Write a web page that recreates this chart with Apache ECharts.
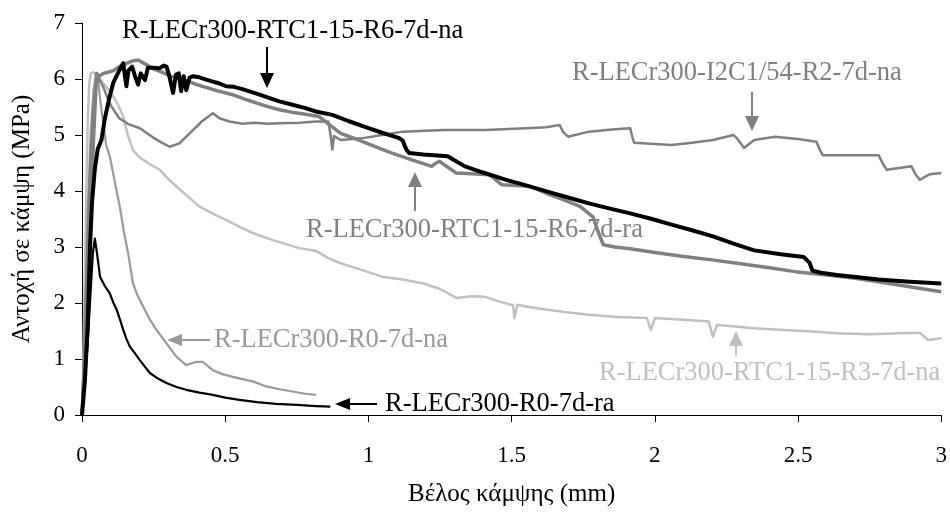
<!DOCTYPE html>
<html>
<head>
<meta charset="utf-8">
<script src="https://cdn.jsdelivr.net/npm/echarts@6/dist/echarts.min.js"></script>
<style>html,body{margin:0;padding:0;background:#fff}#c{width:950px;height:514px}</style>
</head>
<body>
<div id="c"></div>
<script>
// Axis tick values
var xTicks = [0, 0.5, 1, 1.5, 2, 2.5, 3];
var yTicks = [0, 1, 2, 3, 4, 5, 6, 7];

// Series names
var names = [
  'R-LECr300-RTC1-15-R6-7d-na',
  'R-LECr300-RTC1-15-R6-7d-ra',
  'R-LECr300-I2C1/54-R2-7d-na',
  'R-LECr300-RTC1-15-R3-7d-na',
  'R-LECr300-R0-7d-na',
  'R-LECr300-R0-7d-ra'
];

// [deflection mm, strength MPa]
var rtcR6na = [[0,0],[0.01,0.6],[0.02,1.6],[0.028,3.0],[0.035,3.8],[0.045,4.4],[0.055,4.75],[0.068,4.91],[0.08,5.3],[0.095,5.65],[0.109,5.93],[0.125,6.1],[0.144,6.28],[0.15,6.05],[0.155,5.87],[0.162,6.15],[0.175,6.22],[0.185,6.05],[0.196,5.9],[0.205,6.1],[0.22,5.98],[0.23,6.2],[0.25,6.2],[0.27,6.19],[0.285,6.24],[0.295,6.22],[0.305,6.05],[0.318,5.75],[0.328,6.08],[0.338,6.1],[0.346,5.78],[0.355,6.05],[0.364,5.8],[0.375,6.02],[0.387,6.05],[0.41,6.03],[0.434,5.99],[0.46,5.95],[0.48,5.92],[0.503,5.87],[0.53,5.86],[0.56,5.82],[0.585,5.78],[0.62,5.72],[0.655,5.66],[0.689,5.6],[0.735,5.54],[0.78,5.48],[0.817,5.42],[0.874,5.36],[0.93,5.25],[0.99,5.14],[1.048,5.04],[1.105,4.95],[1.12,4.9],[1.127,4.8],[1.135,4.72],[1.142,4.68],[1.192,4.65],[1.277,4.62],[1.30,4.55],[1.337,4.44],[1.40,4.33],[1.481,4.2],[1.55,4.1],[1.625,3.99],[1.70,3.88],[1.77,3.78],[1.84,3.69],[1.914,3.6],[1.99,3.5],[2.058,3.4],[2.13,3.3],[2.203,3.19],[2.28,3.05],[2.347,2.94],[2.44,2.87],[2.52,2.82],[2.54,2.72],[2.55,2.58],[2.58,2.54],[2.636,2.5],[2.71,2.46],[2.78,2.42],[2.89,2.38],[3.0,2.35]];

var rtcR6ra = [[0,0],[0.01,1.0],[0.02,2.5],[0.03,3.8],[0.04,4.9],[0.051,6.1],[0.06,6.05],[0.075,6.1],[0.09,6.12],[0.11,6.15],[0.13,6.22],[0.155,6.28],[0.175,6.32],[0.196,6.34],[0.22,6.27],[0.25,6.18],[0.28,6.12],[0.31,6.05],[0.34,6.0],[0.37,5.96],[0.40,5.9],[0.44,5.84],[0.48,5.78],[0.526,5.72],[0.58,5.62],[0.64,5.52],[0.689,5.45],[0.74,5.4],[0.78,5.37],[0.828,5.33],[0.86,5.2],[0.903,5.03],[0.96,4.92],[1.019,4.8],[1.08,4.68],[1.149,4.56],[1.221,4.44],[1.235,4.5],[1.249,4.53],[1.27,4.45],[1.307,4.32],[1.36,4.31],[1.423,4.29],[1.445,4.2],[1.466,4.11],[1.52,4.1],[1.567,4.08],[1.62,3.96],[1.683,3.84],[1.74,3.72],[1.784,3.54],[1.80,3.3],[1.82,3.04],[1.86,3.0],[1.914,2.97],[2.0,2.9],[2.1,2.83],[2.2,2.77],[2.3,2.7],[2.4,2.63],[2.49,2.56],[2.6,2.5],[2.7,2.44],[2.78,2.38],[2.9,2.28],[3.0,2.2]];

var i2c1 = [[0,0],[0.01,1.5],[0.02,3.2],[0.03,4.6],[0.04,5.5],[0.05,5.9],[0.06,6.0],[0.075,5.85],[0.09,5.65],[0.103,5.51],[0.13,5.3],[0.16,5.2],[0.202,5.12],[0.25,4.95],[0.28,4.86],[0.306,4.79],[0.34,4.85],[0.376,5.03],[0.42,5.25],[0.457,5.39],[0.48,5.3],[0.515,5.24],[0.56,5.2],[0.6,5.22],[0.65,5.2],[0.689,5.21],[0.76,5.22],[0.817,5.24],[0.86,5.24],[0.868,5.0],[0.874,4.74],[0.88,4.98],[0.903,4.91],[0.975,4.94],[1.048,5.0],[1.12,5.06],[1.263,5.09],[1.408,5.09],[1.552,5.12],[1.62,5.14],[1.668,5.18],[1.68,5.05],[1.697,4.97],[1.77,5.06],[1.85,5.1],[1.914,5.12],[1.922,4.95],[1.928,4.86],[2.058,4.82],[2.13,4.86],[2.203,4.91],[2.275,5.0],[2.29,4.92],[2.311,4.77],[2.347,4.91],[2.419,4.97],[2.5,4.93],[2.564,4.88],[2.575,4.75],[2.586,4.64],[2.7,4.64],[2.781,4.64],[2.795,4.5],[2.809,4.38],[2.896,4.44],[2.91,4.3],[2.925,4.2],[2.96,4.3],[3.0,4.32]];

var rtcR3na = [[0,0],[0.005,1.0],[0.01,2.5],[0.015,4.0],[0.02,5.2],[0.025,5.9],[0.03,6.1],[0.04,6.12],[0.055,6.05],[0.07,5.95],[0.09,5.82],[0.109,5.69],[0.125,5.55],[0.144,5.33],[0.16,5.0],[0.178,4.73],[0.195,4.63],[0.213,4.56],[0.24,4.47],[0.271,4.38],[0.30,4.22],[0.33,4.08],[0.37,3.9],[0.411,3.72],[0.455,3.6],[0.504,3.48],[0.55,3.36],[0.596,3.25],[0.65,3.15],[0.70,3.07],[0.759,2.98],[0.817,2.93],[0.86,2.8],[0.903,2.71],[0.97,2.6],[1.048,2.47],[1.12,2.42],[1.192,2.35],[1.25,2.25],[1.307,2.09],[1.36,2.12],[1.408,2.11],[1.46,2.02],[1.505,1.96],[1.51,1.73],[1.52,1.97],[1.57,1.92],[1.625,1.88],[1.7,1.83],[1.77,1.79],[1.87,1.75],[1.972,1.73],[1.986,1.52],[2.0,1.73],[2.1,1.7],[2.188,1.67],[2.203,1.40],[2.217,1.61],[2.28,1.58],[2.347,1.55],[2.45,1.52],[2.55,1.49],[2.636,1.46],[2.75,1.44],[2.85,1.46],[2.925,1.47],[2.954,1.34],[3.0,1.37]];

var r0na = [[0,0],[0.01,1.8],[0.02,3.6],[0.03,5.0],[0.04,5.8],[0.05,6.1],[0.056,6.0],[0.062,5.7],[0.068,5.45],[0.074,5.21],[0.085,4.8],[0.097,4.62],[0.115,4.15],[0.132,3.72],[0.147,3.25],[0.161,2.89],[0.178,2.35],[0.195,2.12],[0.213,1.94],[0.235,1.72],[0.26,1.52],[0.295,1.28],[0.33,1.04],[0.364,0.89],[0.38,0.92],[0.399,0.95],[0.422,0.95],[0.44,0.87],[0.457,0.80],[0.49,0.73],[0.527,0.68],[0.56,0.64],[0.596,0.60],[0.643,0.51],[0.69,0.46],[0.735,0.42],[0.78,0.38],[0.817,0.36]];

var r0ra = [[0,0],[0.01,0.6],[0.02,1.3],[0.03,2.2],[0.038,2.9],[0.045,3.15],[0.052,2.9],[0.063,2.47],[0.08,2.3],[0.097,2.17],[0.11,2.0],[0.121,1.88],[0.133,1.7],[0.144,1.52],[0.155,1.36],[0.167,1.22],[0.185,1.1],[0.202,0.98],[0.22,0.86],[0.237,0.75],[0.265,0.65],[0.295,0.57],[0.33,0.5],[0.364,0.45],[0.41,0.4],[0.457,0.36],[0.5,0.31],[0.55,0.27],[0.61,0.23],[0.678,0.20],[0.75,0.18],[0.817,0.16],[0.867,0.15]];

var FONT = "'Liberation Serif', 'Times New Roman', Tinos, 'DejaVu Serif', serif";

var chart = echarts.init(document.getElementById('c'), null, {renderer: 'canvas'});

function line(name, data, color, width, z) {
  return {
    name: name, type: 'line', data: data, showSymbol: false, symbol: 'none',
    lineStyle: {color: color, width: width, join: 'round'}, z: z, animation: false,
    emphasis: {disabled: true}
  };
}

function arrowV(x, yTail, yTip, color) {
  var dir = yTip > yTail ? 1 : -1;
  var base = yTip - dir * 15;
  return [
    {type: 'line', shape: {x1: x, y1: yTail, x2: x, y2: base}, style: {stroke: color, lineWidth: 2}},
    {type: 'polygon', shape: {points: [[x, yTip], [x - 7, base], [x + 7, base]]}, style: {fill: color}}
  ];
}
function arrowH(y, xTail, xTip, color) {
  var dir = xTip > xTail ? 1 : -1;
  var base = xTip - dir * 15;
  return [
    {type: 'line', shape: {x1: xTail, y1: y, x2: base, y2: y}, style: {stroke: color, lineWidth: 2}},
    {type: 'polygon', shape: {points: [[xTip, y], [base, y - 6], [base, y + 6]]}, style: {fill: color}}
  ];
}
function label(text, x, y, color) {
  return {type: 'text', x: x, y: y, style: {text: text, fill: color, fontSize: 26.5, fontFamily: FONT, align: 'left', verticalAlign: 'middle'}};
}

var graphics = [].concat(
  [label(names[0], 122, 31, '#000000')], arrowV(267, 47, 88, '#000000'),
  [label(names[2], 572, 73, '#808080')], arrowV(752, 92, 131, '#808080'),
  [label(names[1], 306, 230, '#808080')], arrowV(415, 211, 172, '#808080'),
  [label(names[4], 214, 340, '#999999')], arrowH(340, 210, 167, '#999999'),
  [label(names[3], 599, 373, '#c0c0c0')], arrowV(736, 356, 331, '#c0c0c0'),
  [label(names[5], 385, 404, '#000000')], arrowH(404, 377, 335, '#000000')
);

var option = {
  animation: false,
  backgroundColor: '#ffffff',
  textStyle: {fontFamily: FONT},
  grid: {left: 82, right: 6, top: 23, bottom: 99, containLabel: false},
  xAxis: {
    type: 'value', min: xTicks[0], max: xTicks[xTicks.length - 1], interval: 0.5,
    name: 'Βέλος κάμψης (mm)', nameLocation: 'middle', nameGap: 67,
    nameTextStyle: {fontFamily: FONT, fontSize: 25, color: '#000'},
    axisLine: {show: true, onZero: false, lineStyle: {color: '#000', width: 1}},
    axisTick: {show: true, length: 7, inside: false, lineStyle: {color: '#000'}},
    axisLabel: {fontFamily: FONT, fontSize: 23, color: '#000', margin: 29},
    splitLine: {show: false}
  },
  yAxis: {
    type: 'value', min: yTicks[0], max: yTicks[yTicks.length - 1], interval: 1,
    name: 'Αντοχή σε κάμψη (MPa)', nameLocation: 'middle', nameGap: 47, nameRotate: 90,
    nameTextStyle: {fontFamily: FONT, fontSize: 25, color: '#000'},
    axisLine: {show: true, onZero: false, lineStyle: {color: '#000', width: 1}},
    axisTick: {show: true, length: 7, inside: false, lineStyle: {color: '#000'}},
    axisLabel: {fontFamily: FONT, fontSize: 23, color: '#000', margin: 17},
    splitLine: {show: false}
  },
  series: [
    line(names[3], rtcR3na, '#c0c0c0', 2.5, 2),
    line(names[4], r0na, '#9a9a9a', 2.2, 3),
    line(names[2], i2c1, '#7f7f7f', 2.5, 4),
    line(names[1], rtcR6ra, '#808080', 3.5, 5),
    line(names[5], r0ra, '#000000', 2.2, 6),
    line(names[0], rtcR6na, '#000000', 4, 7)
  ],
  graphic: graphics
};
chart.setOption(option);
</script>
</body>
</html>
